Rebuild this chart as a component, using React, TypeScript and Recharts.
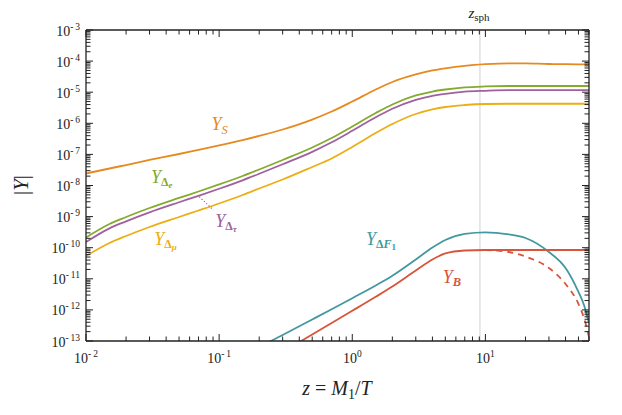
import React from 'react';
import { LineChart, Line, XAxis, YAxis, ReferenceLine } from 'recharts';

// z = M1/T sample points
const Z = [0.01, 0.015, 0.02, 0.03, 0.05, 0.07, 0.1, 0.15, 0.2, 0.3, 0.5, 0.7, 1, 1.5, 2, 3, 4, 5, 7, 10, 15, 20, 30, 40, 50, 55, 60];

const Y_S = [2.43e-8, 3.52e-8, 4.56e-8, 6.61e-8, 1.03e-7, 1.41e-7, 1.96e-7, 2.9e-7, 3.91e-7, 6.32e-7, 1.32e-6, 2.39e-6, 5.02e-6, 1.22e-5, 2.13e-5, 3.71e-5, 4.99e-5, 5.86e-5, 7.06e-5, 7.94e-5, 8.5e-5, 8.43e-5, 8.07e-5, 7.94e-5, 7.89e-5, 7.89e-5, 7.89e-5];
const Y_DE = [2.13e-10, 5.78e-10, 9.7e-10, 1.89e-9, 3.97e-9, 6.41e-9, 1.08e-8, 2.02e-8, 3.27e-8, 6.61e-8, 1.67e-7, 3.37e-7, 7.89e-7, 2.14e-6, 4.03e-6, 7.84e-6, 1.05e-5, 1.22e-5, 1.43e-5, 1.53e-5, 1.58e-5, 1.58e-5, 1.58e-5, 1.58e-5, 1.58e-5, 1.58e-5, 1.58e-5];
const Y_DT = [1.52e-10, 4.2e-10, 7.05e-10, 1.37e-9, 2.89e-9, 4.66e-9, 7.85e-9, 1.47e-8, 2.38e-8, 4.81e-8, 1.21e-7, 2.45e-7, 5.74e-7, 1.56e-6, 2.93e-6, 5.7e-6, 7.63e-6, 8.87e-6, 1.04e-5, 1.11e-5, 1.16e-5, 1.16e-5, 1.16e-5, 1.16e-5, 1.16e-5, 1.16e-5, 1.16e-5];
const Y_DM = [5.41e-11, 1.42e-10, 2.38e-10, 4.63e-10, 9.7e-10, 1.57e-9, 2.64e-9, 4.95e-9, 8.01e-9, 1.56e-8, 3.94e-8, 7.38e-8, 1.73e-7, 4.88e-7, 9.48e-7, 1.99e-6, 2.78e-6, 3.34e-6, 3.87e-6, 4.18e-6, 4.25e-6, 4.25e-6, 4.25e-6, 4.25e-6, 4.25e-6, 4.25e-6, 4.25e-6];
const Y_DF1 = [null, null, null, null, null, null, null, 3.3e-14, 6.41e-14, 1.56e-13, 4.91e-13, 1.05e-12, 2.38e-12, 6.09e-12, 1.25e-11, 4.18e-11, 1.01e-10, 1.77e-10, 2.8e-10, 3.13e-10, 2.66e-10, 2.05e-10, 7.28e-11, 2.22e-11, 3.77e-12, 1.44e-12, 3.79e-13];
const Y_B = [null, null, null, null, null, null, null, null, 1.57e-14, 4.43e-14, 1.62e-13, 3.79e-13, 9.35e-13, 2.64e-12, 5.65e-12, 1.85e-11, 4.18e-11, 6.52e-11, 8.13e-11, 8.44e-11, 8.44e-11, 8.44e-11, 8.44e-11, 8.44e-11, 8.44e-11, 8.44e-11, 8.44e-11];
const Y_B_DASH = [null, null, null, null, null, null, null, null, null, null, null, null, null, null, null, null, null, null, null, 8.44e-11, 7.28e-11, 5.21e-11, 2.22e-11, 6.81e-12, 1.55e-12, 5.5e-13, 1.35e-13];

const X_DOMAIN = [0.01, 60];
const Y_DOMAIN = [1e-13, 1e-3];
const X_DECADES = [-2, -1, 0, 1];
const Y_DECADES = [-13, -12, -11, -10, -9, -8, -7, -6, -5, -4];
const Z_SPH = 9.1;

const C_S = '#E8891F';
const C_DE = '#84AA2E';
const C_DT = '#A0609F';
const C_DM = '#ECAE13';
const C_F = '#4398A0';
const C_B = '#D8553A';
const FONT = "'Liberation Serif', 'Times New Roman', Times, serif";
const INK = '#222';
const FS = { fontFamily: FONT } as const;

function logTicks(decades: number[], max: number, last?: number) {
  const out: number[] = [];
  decades.forEach((e) => {
    for (let m = 1; m <= 9; m++) {
      const v = Number((m * Math.pow(10, e)).toPrecision(6));
      if (v <= max) out.push(v);
    }
  });
  if (last !== undefined) out.push(last);
  return out;
}
const X_TICKS = logTicks(X_DECADES, 60);
const Y_TICKS = logTicks(Y_DECADES, 1e-3, 1e-3);

const isMajor = (v: number) => Math.abs(Math.log10(v) - Math.round(Math.log10(v))) < 1e-6;
const expOf = (v: number) => Math.round(Math.log10(v));
const expText = (e: number) => (e < 0 ? `-\u2009${-e}` : `${e}`);

const data = Z.map((z, i) => ({
  z,
  s: Y_S[i],
  de: Y_DE[i],
  dt: Y_DT[i],
  dm: Y_DM[i],
  f: Y_DF1[i],
  b: Y_B[i],
  bd: Y_B_DASH[i],
}));

function BottomTick(p: any) {
  const v = p.payload.value;
  const major = isMajor(v);
  return (
    <g>
      <line x1={p.x} y1={p.y} x2={p.x} y2={p.y - (major ? 7 : 4.5)} stroke={INK} strokeWidth={1} />
      {major && (
        <text x={p.x} y={p.y + 22} textAnchor="middle" style={FS} fill={INK}>
          <tspan fontSize={14}>10</tspan>
          <tspan fontSize={9.5} dy={-6}>{expText(expOf(v))}</tspan>
        </text>
      )}
    </g>
  );
}
function TopTick(p: any) {
  const v = p.payload.value;
  const major = isMajor(v);
  return <line x1={p.x} y1={p.y} x2={p.x} y2={p.y + (major ? 7 : 4.5)} stroke={INK} strokeWidth={1} />;
}
function LeftTick(p: any) {
  const v = p.payload.value;
  const major = isMajor(v);
  return (
    <g>
      <line x1={p.x} y1={p.y} x2={p.x + (major ? 7 : 4.5)} y2={p.y} stroke={INK} strokeWidth={1} />
      {major && (
        <text x={p.x - 6} y={p.y + 5.5} textAnchor="end" style={FS} fill={INK}>
          <tspan fontSize={14}>10</tspan>
          <tspan fontSize={9.5} dy={-6}>{expText(expOf(v))}</tspan>
        </text>
      )}
    </g>
  );
}
function RightTick(p: any) {
  const v = p.payload.value;
  const major = isMajor(v);
  return <line x1={p.x} y1={p.y} x2={p.x - (major ? 7 : 4.5)} y2={p.y} stroke={INK} strokeWidth={1} />;
}

const lbl = { fontFamily: FONT, fontStyle: 'italic' as const };

export default function App() {
  return (
    <div style={{ position: 'absolute', left: 0, top: 0, width: 622, height: 415, background: '#fff', fontFamily: FONT }}>
      <LineChart width={622} height={415} data={data} margin={{ top: 0, right: 0, bottom: 0, left: 0 }}>
        <XAxis
          xAxisId="b"
          dataKey="z"
          type="number"
          scale="log"
          domain={X_DOMAIN}
          allowDataOverflow
          ticks={X_TICKS}
          interval={0}
          height={74}
          tickSize={0}
          tickMargin={0}
          tickLine={false}
          axisLine={{ stroke: INK, strokeWidth: 1.3 }}
          tick={(p: any) => <BottomTick {...p} />}
        />
        <XAxis
          xAxisId="t"
          orientation="top"
          dataKey="z"
          type="number"
          scale="log"
          domain={X_DOMAIN}
          allowDataOverflow
          ticks={X_TICKS}
          interval={0}
          height={30}
          tickSize={0}
          tickMargin={0}
          tickLine={false}
          axisLine={{ stroke: INK, strokeWidth: 1.3 }}
          tick={(p: any) => <TopTick {...p} />}
        />
        <YAxis
          yAxisId="l"
          type="number"
          scale="log"
          domain={Y_DOMAIN}
          allowDataOverflow
          ticks={Y_TICKS}
          interval={0}
          width={86}
          tickSize={0}
          tickMargin={0}
          tickLine={false}
          axisLine={{ stroke: INK, strokeWidth: 1.3 }}
          tick={(p: any) => <LeftTick {...p} />}
        />
        <YAxis
          yAxisId="r"
          orientation="right"
          type="number"
          scale="log"
          domain={Y_DOMAIN}
          allowDataOverflow
          ticks={Y_TICKS}
          interval={0}
          width={33}
          tickSize={0}
          tickMargin={0}
          tickLine={false}
          axisLine={{ stroke: INK, strokeWidth: 1.3 }}
          tick={(p: any) => <RightTick {...p} />}
        />
        <ReferenceLine xAxisId="b" yAxisId="l" x={Z_SPH} stroke="#dcdcdc" strokeWidth={1.3} />
        <Line type="monotone" xAxisId="b" yAxisId="l" dataKey="s" stroke={C_S} strokeWidth={1.8} dot={false} isAnimationActive={false} />
        <Line type="monotone" xAxisId="b" yAxisId="l" dataKey="de" stroke={C_DE} strokeWidth={1.8} dot={false} isAnimationActive={false} />
        <Line type="monotone" xAxisId="b" yAxisId="l" dataKey="dt" stroke={C_DT} strokeWidth={1.8} dot={false} isAnimationActive={false} />
        <Line type="monotone" xAxisId="b" yAxisId="l" dataKey="dm" stroke={C_DM} strokeWidth={1.8} dot={false} isAnimationActive={false} />
        <Line type="monotone" xAxisId="b" yAxisId="l" dataKey="f" stroke={C_F} strokeWidth={1.8} dot={false} isAnimationActive={false} />
        <Line type="monotone" xAxisId="b" yAxisId="l" dataKey="bd" stroke={C_B} strokeWidth={1.8} strokeDasharray="6 5" dot={false} isAnimationActive={false} />
        <Line type="monotone" xAxisId="b" yAxisId="l" dataKey="b" stroke={C_B} strokeWidth={1.8} dot={false} isAnimationActive={false} />
      </LineChart>
      <svg width={622} height={415} style={{ position: 'absolute', left: 0, top: 0, pointerEvents: 'none', fontFamily: FONT }}>
        <text x={479} y={18} textAnchor="middle" style={FS} fontSize={15} fill={INK}>
          <tspan fontStyle="italic">z</tspan>
          <tspan fontSize={11} dy={3}>sph</tspan>
        </text>
        <text transform="translate(28,185) rotate(-90)" textAnchor="middle" style={FS} fontSize={21} fill={INK}>
          |<tspan fontStyle="italic">Y</tspan>|
        </text>
        <text x={337} y={395} textAnchor="middle" style={FS} fontSize={20} fill={INK}>
          <tspan fontStyle="italic">z</tspan>
          <tspan> = </tspan>
          <tspan fontStyle="italic">M</tspan>
          <tspan fontSize={14} dy={4}>1</tspan>
          <tspan dy={-4}>/</tspan>
          <tspan fontStyle="italic">T</tspan>
        </text>

        <text x={211.5} y={129.5} fill={C_S} fontSize={18} style={lbl}>
          Y<tspan fontSize={12.5} dy={4}>S</tspan>
        </text>
        <text x={151} y={183.3} fill={C_DE} fontSize={18} style={lbl}>
          Y<tspan fontSize={12} dy={3} fontStyle="normal" fontWeight={700}>Δ</tspan>
          <tspan fontSize={9} dy={2} fontWeight={700}>e</tspan>
        </text>
        <line x1={199.3} y1={196.7} x2={213.3} y2={210} stroke={C_DT} strokeWidth={1.2} strokeDasharray="1.2 2" />
        <text x={215.3} y={226.5} fill={C_DT} fontSize={18} style={lbl}>
          Y<tspan fontSize={12} dy={3} fontStyle="normal" fontWeight={700}>Δ</tspan>
          <tspan fontSize={9} dy={2} fontWeight={700}>τ</tspan>
        </text>
        <text x={154.3} y={245} fill={C_DM} fontSize={18} style={lbl}>
          Y<tspan fontSize={12} dy={3} fontStyle="normal" fontWeight={700}>Δ</tspan>
          <tspan fontSize={9} dy={2} fontWeight={700}>μ</tspan>
        </text>
        <text x={366} y={245} fill={C_F} fontSize={18} style={lbl}>
          Y<tspan fontSize={12} dy={3} fontStyle="normal" fontWeight={700}>Δ</tspan>
          <tspan fontSize={12} fontWeight={700}>F</tspan>
          <tspan fontSize={9} dy={2} fontStyle="normal" fontWeight={700}>1</tspan>
        </text>
        <text x={442.7} y={283} fill={C_B} fontSize={18} style={lbl}>
          Y<tspan fontSize={12.5} dy={3} fontWeight={700}>B</tspan>
        </text>
      </svg>
    </div>
  );
}
